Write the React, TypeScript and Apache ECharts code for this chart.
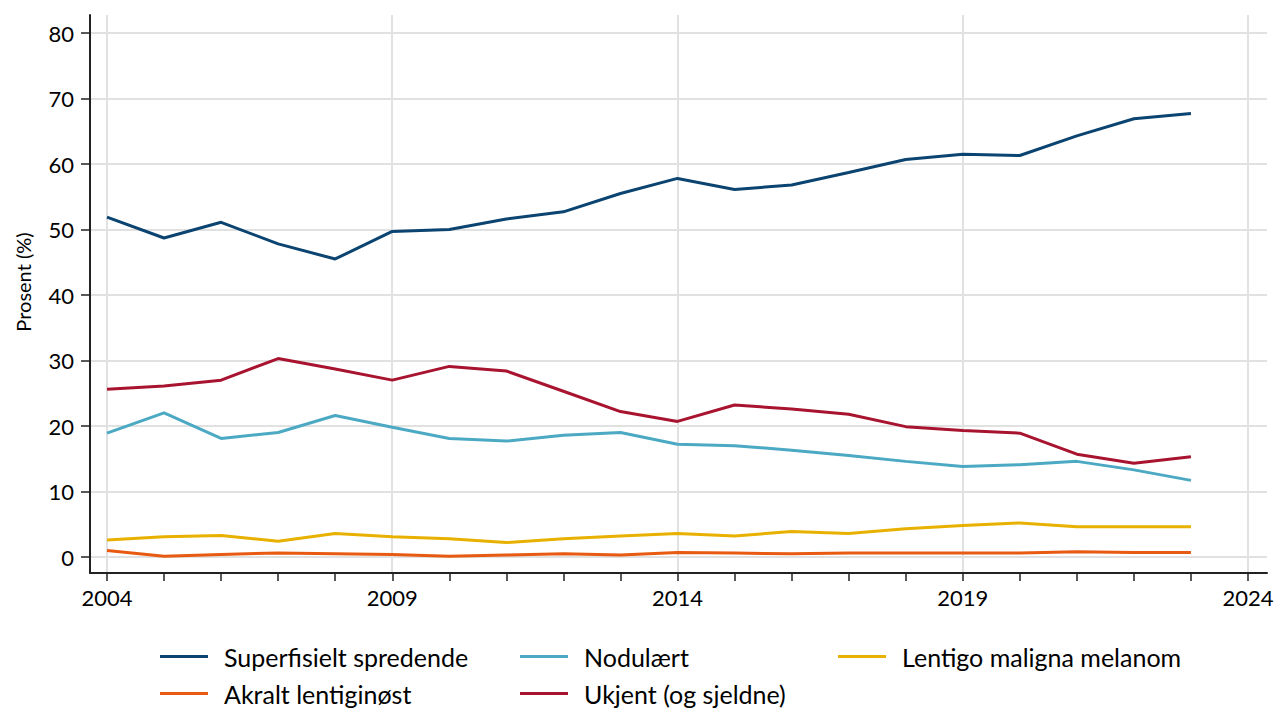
import React, { useEffect, useRef } from "react";
import * as echarts from "echarts";

const years = [2004, 2005, 2006, 2007, 2008, 2009, 2010, 2011, 2012, 2013, 2014, 2015, 2016, 2017, 2018, 2019, 2020, 2021, 2022, 2023];

const superfisielt = [51.9, 48.7, 51.1, 47.8, 45.5, 49.7, 50.0, 51.6, 52.7, 55.5, 57.8, 56.1, 56.8, 58.7, 60.7, 61.5, 61.3, 64.3, 66.9, 67.7];
const nodulaert = [18.9, 22.0, 18.1, 19.0, 21.6, 19.8, 18.1, 17.7, 18.6, 19.0, 17.2, 17.0, 16.3, 15.5, 14.6, 13.8, 14.1, 14.6, 13.3, 11.7];
const lentigo = [2.6, 3.1, 3.3, 2.4, 3.6, 3.1, 2.8, 2.2, 2.8, 3.2, 3.6, 3.2, 3.9, 3.6, 4.3, 4.8, 5.2, 4.6, 4.6, 4.6];
const akralt = [1.0, 0.1, 0.4, 0.6, 0.5, 0.4, 0.1, 0.3, 0.5, 0.3, 0.7, 0.6, 0.5, 0.6, 0.6, 0.6, 0.6, 0.8, 0.7, 0.7];
const ukjent = [25.6, 26.1, 27.0, 30.3, 28.7, 27.0, 29.1, 28.4, 25.3, 22.2, 20.7, 23.2, 22.6, 21.8, 19.9, 19.3, 18.9, 15.7, 14.3, 15.3];

const seriesNames = ["Superfisielt spredende", "Nodulært", "Lentigo maligna melanom", "Akralt lentiginøst", "Ukjent (og sjeldne)"];
const seriesValues = [superfisielt, nodulaert, lentigo, akralt, ukjent];
const colors = ["#0b4470", "#4ba9c3", "#e8b100", "#e85a12", "#a8142f"];

const xMin = 2004, xMax = 2024, xStep = 5;
const yMin = 0, yMax = 80, yStep = 10;
const yTitle = "Prosent (%)";

const FONT = "Lato, 'Open Sans', sans-serif";

export default function App() {
  const ref = useRef<HTMLDivElement>(null);
  useEffect(() => {
    if (!ref.current) return;
    const chart = echarts.init(ref.current, null, { renderer: "svg" });
    // layout in pixels
    const outer = { left: 90, right: 1267, top: 15, bottom: 573 };
    const inner = { left: 107, right: 1248, top: 33, bottom: 557 };
    const W = 1277, H = 708;
    const pxPerX = (inner.right - inner.left) / (xMax - xMin);
    const pxPerY = (inner.bottom - inner.top) / (yMax - yMin);
    const oxMin = -(inner.left - outer.left) / pxPerX;
    const oxMax = (xMax - xMin) + (outer.right - inner.right) / pxPerX;
    const oyMin = yMin - (outer.bottom - inner.bottom) / pxPerY;
    const oyMax = yMax + (inner.top - outer.top) / pxPerY;

    const legendPos = [
      { left: 160, top: 644 },
      { left: 520, top: 644 },
      { left: 838, top: 644 },
      { left: 160, top: 681 },
      { left: 520, top: 681 },
    ];

    const option: any = {
      animation: false,
      backgroundColor: "#ffffff",
      textStyle: { fontFamily: FONT },
      grid: [
        { left: outer.left, right: W - outer.right, top: outer.top, bottom: H - outer.bottom },
        { left: inner.left, right: W - inner.right, top: inner.top, bottom: H - inner.bottom },
      ],
      xAxis: [
        {
          type: "value", gridIndex: 0, min: oxMin, max: oxMax, splitNumber: 4, minInterval: xStep, maxInterval: xStep,
          axisLine: { show: true, onZero: false, lineStyle: { color: "#222", width: 2 } },
          axisTick: { show: false }, axisLabel: { show: false },
          splitLine: { show: true, showMinLine: false, showMaxLine: false, lineStyle: { color: "#e1e1e1", width: 2 } },
        },
        {
          type: "value", gridIndex: 1, min: xMin, max: xMax, interval: xStep, offset: outer.bottom - inner.bottom,
          axisLine: { show: false, onZero: false },
          axisTick: { show: true, length: 8, lineStyle: { color: "#222", width: 1.5 } },
          minorTick: { show: true, splitNumber: 5, length: 8, lineStyle: { color: "#222", width: 1.5 } },
          axisLabel: { show: true, margin: 13, fontSize: 22, color: "#000", fontFamily: FONT, formatter: (v: number) => String(v) },
          splitLine: { show: false },
        },
      ],
      yAxis: [
        {
          type: "value", gridIndex: 0, min: oyMin, max: oyMax, splitNumber: 8, minInterval: yStep, maxInterval: yStep,
          axisLine: { show: true, onZero: false, lineStyle: { color: "#222", width: 2 } },
          axisTick: { show: false }, axisLabel: { show: false },
          splitLine: { show: true, showMinLine: false, showMaxLine: false, lineStyle: { color: "#e1e1e1", width: 2 } },
        },
        {
          type: "value", gridIndex: 1, min: yMin, max: yMax, interval: yStep, offset: inner.left - outer.left,
          axisLine: { show: false, onZero: false },
          axisTick: { show: true, length: 9, lineStyle: { color: "#222", width: 1.5 } },
          axisLabel: { show: true, margin: 16, fontSize: 22, color: "#000", fontFamily: FONT },
          splitLine: { show: false },
        },
      ],
      legend: seriesNames.map((name, i) => ({
        data: [name],
        left: legendPos[i].left,
        top: legendPos[i].top,
        padding: 0,
        icon: "rect",
        itemWidth: 48,
        itemHeight: 3,
        textStyle: { fontSize: 25, color: "#000", fontFamily: FONT, padding: [0, 0, 0, 11] },
        selectedMode: false,
      })),
      graphic: [
        {
          type: "text",
          x: 23,
          y: 282,
          rotation: Math.PI / 2,
          style: { text: yTitle, fontSize: 20, fontFamily: FONT, fill: "#000", align: "center", verticalAlign: "middle" },
        },
      ],
      series: seriesNames.map((name, i) => ({
        name,
        type: "line",
        xAxisIndex: 1,
        yAxisIndex: 1,
        showSymbol: false,
        symbol: "none",
        color: colors[i],
        lineStyle: { width: 3, color: colors[i] },
        data: years.map((yr, j) => [yr, seriesValues[i][j]]),
      })),
    };
    chart.setOption(option);
    return () => chart.dispose();
  }, []);
  return <div ref={ref} style={{ position: "fixed", left: 0, top: 0, width: 1277, height: 708 }} />;
}
